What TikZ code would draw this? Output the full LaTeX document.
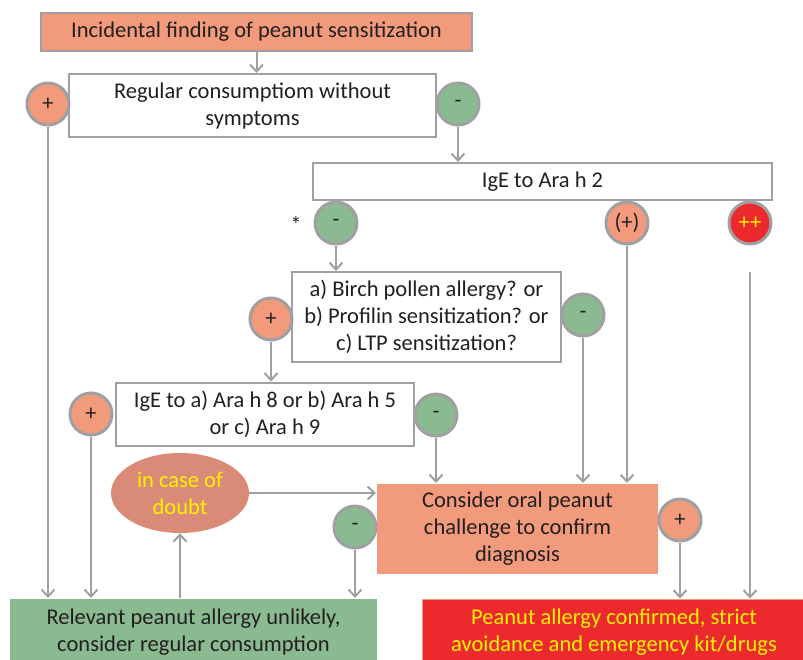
\documentclass[tikz,border=0pt]{standalone}
\usepackage{fontspec}
\setmainfont{Carlito}
\usetikzlibrary{arrows.meta,shapes.geometric}
\definecolor{salmon}{HTML}{F29B7C}
\definecolor{sage}{HTML}{8ABA8F}
\definecolor{alarm}{HTML}{EC2A2E}
\definecolor{clay}{HTML}{D98B77}
\definecolor{edge}{HTML}{A0A0A3}
\definecolor{lemon}{HTML}{FFF200}
\definecolor{ink}{HTML}{231F20}
\tikzset{
  box/.style={draw=edge, line width=2pt, fill=white, align=center, inner sep=0pt},
  sign/.style={circle, draw=edge, line width=3pt, minimum size=42pt, inner sep=0pt},
  flow/.style={draw=edge, line width=2pt, -{Straight Barb[length=7pt,width=13pt,line width=2pt]}},
}
\begin{document}
\begin{tikzpicture}[x=1pt, y=-1pt, font=\fontsize{22.5}{27}\selectfont, text=ink]
    \useasboundingbox (0,0) rectangle (803,659);
    % 起点
    \node[box, fill=salmon, minimum width=431pt, minimum height=38pt] (finding) at (256.5,32)
        {Incidental finding of peanut sensitization};
    \node[box, minimum width=367pt, minimum height=63pt] (regular) at (252.5,105.5)
        {Regular consumptiom without\\symptoms};
    \node[sign, fill=salmon] (regp) at (48,104) {+};
    \node[sign, fill=sage] (regm) at (458,104) {-};
    % Ara h 2
    \node[box, minimum width=459pt, minimum height=37pt] (arah2) at (542.5,181.5) {IgE to Ara h 2};
    \node (star) at (296,225) {*};
    \node[sign, fill=sage] (arah2m) at (336,223) {-};
    \node[sign, fill=salmon] (arah2w) at (627,223) {(+)};
    \node[sign, fill=alarm, text=lemon] (arah2s) at (750,223) {++};
    \coordinate (strong) at (750,272);
    % 花粉 / profilin / LTP
    \node[box, minimum width=269pt, minimum height=90pt] (birch) at (426.5,317)
        {a) Birch pollen allergy? or\\b) Profilin sensitization? or\\c) LTP sensitization?};
    \node[sign, fill=salmon] (birchp) at (271,319) {+};
    \node[sign, fill=sage] (birchm) at (583,315) {-};
    % Ara h 8 / 5 / 9
    \node[box, minimum width=298pt, minimum height=63pt] (arah8) at (265,414)
        {IgE to a) Ara h 8 or b) Ara h 5\\or c) Ara h 9};
    \node[sign, fill=salmon] (arah8p) at (91,414) {+};
    \node[sign, fill=sage] (arah8m) at (436,415) {-};
    % 激发试验
    \node[ellipse, fill=clay, text=lemon, align=center, minimum width=138pt, minimum height=80pt,
        inner sep=0pt] (doubt) at (180,493) {in case of\\doubt};
    \node[box, draw=none, fill=salmon, minimum width=281pt, minimum height=90pt] (challenge) at (517.5,529)
        {Consider oral peanut\\challenge to confirm\\diagnosis};
    \node[sign, fill=sage] (challm) at (355,527) {-};
    \node[sign, fill=salmon] (challp) at (680,520) {+};
    % 结论
    \node[box, draw=none, fill=sage, minimum width=367pt, minimum height=66pt] (unlikely) at (193.5,632)
        {Relevant peanut allergy unlikely,\\consider regular consumption};
    \node[box, draw=salmon, line width=1pt, fill=alarm, text=lemon, minimum width=384pt, minimum height=66pt]
        (confirmed) at (614,632) {Peanut allergy confirmed, strict\\avoidance and emergency kit/drugs};
    % 箭头
    \draw[flow] (finding.south) -- (finding.south |- regular.north);
    \draw[flow] (regm) -- (regm |- arah2.north);
    \draw[flow] (regp) -- (regp |- unlikely.north);
    \draw[flow] (arah2m) -- (arah2m |- birch.north);
    \draw[flow] (birchp) -- (birchp |- arah8.north);
    \draw[flow] (arah8p) -- (arah8p |- unlikely.north);
    \draw[flow] (arah8m) -- (arah8m |- challenge.north);
    \draw[flow] (birchm) -- (birchm |- challenge.north);
    \draw[flow] (arah2w) -- (arah2w |- challenge.north);
    \draw[flow] (strong) -- (strong |- confirmed.north);
    \draw[flow] (challp) -- (challp |- confirmed.north);
    \draw[flow] (challm) -- (challm |- unlikely.north);
    \draw[flow] (unlikely.north -| doubt.south) -- (doubt.south);
    \draw[flow] (doubt.east) -- (doubt.east -| challenge.west);
\end{tikzpicture}
\end{document}
